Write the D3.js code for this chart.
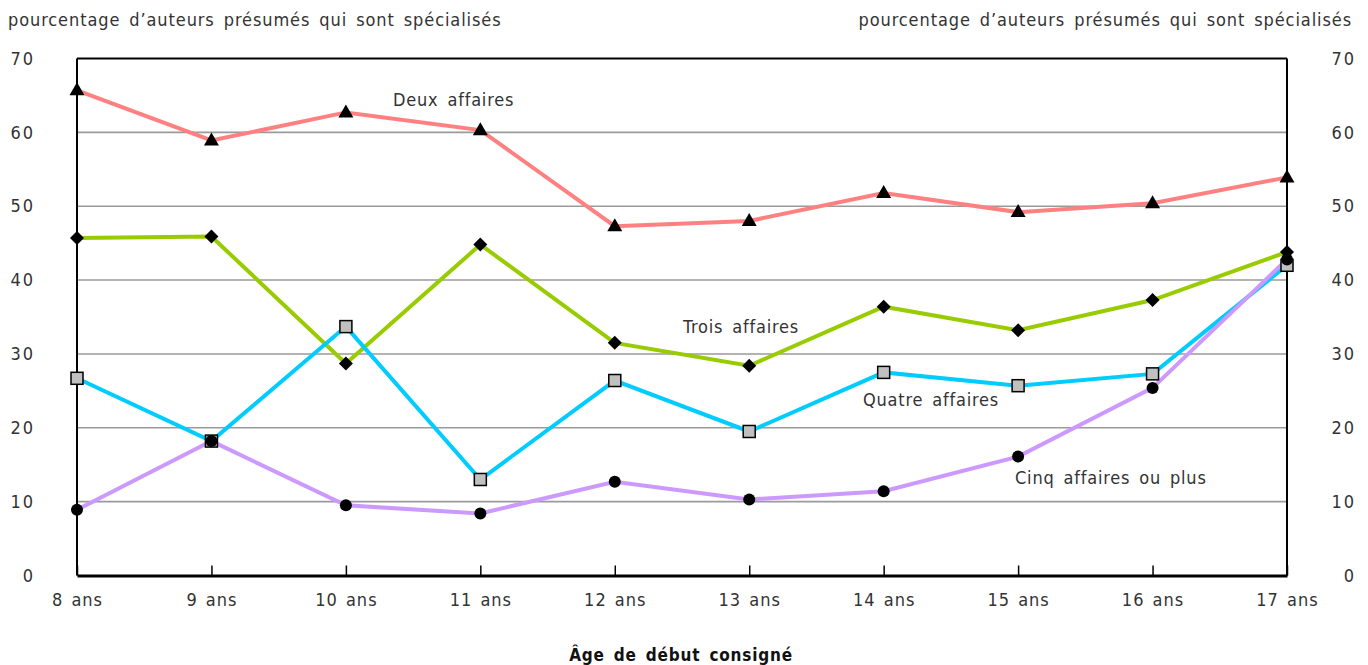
<!DOCTYPE html>
<html>
<head>
<meta charset="utf-8">
<script src="https://cdn.jsdelivr.net/npm/d3@7"></script>
<style>
  body { margin: 0; background: #fff; }
  svg text { font-family: "Liberation Sans Narrow", "DejaVu Sans Condensed", "Liberation Sans", sans-serif; fill: #333; }
</style>
</head>
<body>
<svg id="chart" width="1368" height="665"></svg>
<script>
// data
var ages = ["8 ans", "9 ans", "10 ans", "11 ans", "12 ans", "13 ans", "14 ans", "15 ans", "16 ans", "17 ans"];
var deux = [65.7, 58.9, 62.7, 60.3, 47.3, 48.0, 51.8, 49.2, 50.4, 53.9];
var trois = [45.7, 45.9, 28.7, 44.8, 31.5, 28.4, 36.4, 33.2, 37.3, 43.8];
var quatre = [26.7, 18.2, 33.7, 13.0, 26.4, 19.5, 27.5, 25.7, 27.3, 42.0];
var cinq = [8.9, 18.2, 9.5, 8.4, 12.7, 10.3, 11.4, 16.1, 25.4, 42.8];
var yTicks = [0, 10, 20, 30, 40, 50, 60, 70];

!function () {
    var svg = d3.select("#chart");
    var left = 77, right = 1287, plotTop = 58.5, plotBottom = 575.5;

    var x = d3.scalePoint().domain(ages).range([left, right]);
    var y = d3.scaleLinear().domain([0, 70]).range([plotBottom, plotTop]);

    // gridlines
    svg.append("g").selectAll("line").data(yTicks.filter(function (d) { return d > 0 && d < 70; }))
        .enter().append("line")
        .attr("x1", left).attr("x2", right)
        .attr("y1", function (d) { return y(d); }).attr("y2", function (d) { return y(d); })
        .attr("stroke", "#9a9a9a").attr("stroke-width", 1.6);

    // frame
    svg.append("line").attr("x1", left).attr("x2", right).attr("y1", plotTop).attr("y2", plotTop)
        .attr("stroke", "#000").attr("stroke-width", 2);
    svg.append("line").attr("x1", left).attr("x2", left).attr("y1", plotTop).attr("y2", plotBottom)
        .attr("stroke", "#000").attr("stroke-width", 2);
    svg.append("line").attr("x1", right).attr("x2", right).attr("y1", plotTop).attr("y2", plotBottom)
        .attr("stroke", "#000").attr("stroke-width", 2);

    // bottom axis with inward ticks
    var xAxis = svg.append("g").attr("transform", "translate(0," + plotBottom + ")")
        .call(d3.axisBottom(x).tickSize(-10).tickSizeOuter(0).tickPadding(18));
    xAxis.select(".domain").attr("stroke", "#000").attr("stroke-width", 3);
    xAxis.selectAll(".tick line").attr("stroke", "#000").attr("stroke-width", 1.5);
    xAxis.selectAll(".tick text")
        .attr("font-size", 18).attr("fill", "#333").style("letter-spacing", "1px").style("word-spacing", "2px")
        .attr("font-family", null);

    // left / right tick labels
    var yLeft = svg.append("g").attr("transform", "translate(" + left + ",0)")
        .call(d3.axisLeft(y).tickValues(yTicks).tickSize(0).tickPadding(42));
    var yRight = svg.append("g").attr("transform", "translate(" + right + ",0)")
        .call(d3.axisRight(y).tickValues(yTicks).tickSize(0).tickPadding(42));
    [yLeft, yRight].forEach(function (ax) {
        ax.select(".domain").remove();
        ax.selectAll(".tick text").attr("font-size", 18).attr("fill", "#333")
            .style("letter-spacing", "2px").attr("font-family", null);
    });
    yRight.selectAll(".tick text").attr("text-anchor", "end").attr("x", 69);

    // series
    var series = [
        { name: "Deux affaires", values: deux, color: "#ff8080", marker: "triangle" },
        { name: "Trois affaires", values: trois, color: "#99cc00", marker: "diamond" },
        { name: "Quatre affaires", values: quatre, color: "#00ccff", marker: "square" },
        { name: "Cinq affaires ou plus", values: cinq, color: "#cc99ff", marker: "circle" }
    ];

    var line = d3.line()
        .x(function (d, i) { return x(ages[i]); })
        .y(function (d) { return y(d); });

    series.forEach(function (s) {
        svg.append("path")
            .attr("d", line(s.values))
            .attr("fill", "none")
            .attr("stroke", s.color)
            .attr("stroke-width", 4);
    });

    series.forEach(function (s) {
        var g = svg.append("g");
        s.values.forEach(function (v, i) {
            var cx = x(ages[i]), cy = y(v);
            if (s.marker == "triangle") {
                g.append("path").attr("d", "M" + cx + "," + (cy - 8) + "L" + (cx + 7.5) + "," + (cy + 5) + "L" + (cx - 7.5) + "," + (cy + 5) + "Z")
                    .attr("fill", "#000");
            } else if (s.marker == "diamond") {
                g.append("path").attr("d", "M" + cx + "," + (cy - 7) + "L" + (cx + 7) + "," + cy + "L" + cx + "," + (cy + 7) + "L" + (cx - 7) + "," + cy + "Z")
                    .attr("fill", "#000");
            } else if (s.marker == "square") {
                g.append("rect").attr("x", cx - 6).attr("y", cy - 6).attr("width", 12).attr("height", 12)
                    .attr("fill", "#c0c0c0").attr("stroke", "#000").attr("stroke-width", 1.5);
            } else {
                g.append("circle").attr("cx", cx).attr("cy", cy).attr("r", 6).attr("fill", "#000");
            }
        });
    });

    // series labels
    var labels = [
        { text: "Deux affaires", x: 393, y: 106 },
        { text: "Trois affaires", x: 683, y: 333 },
        { text: "Quatre affaires", x: 863, y: 406 },
        { text: "Cinq affaires ou plus", x: 1015, y: 484 }
    ];
    svg.append("g").selectAll("text").data(labels).enter().append("text")
        .attr("x", function (d) { return d.x; }).attr("y", function (d) { return d.y; })
        .attr("font-size", 18).style("letter-spacing", "0.8px").style("word-spacing", "3px")
        .text(function (d) { return d.text; });

    // titles
    svg.append("text").attr("x", 8).attr("y", 26).attr("font-size", 18)
        .style("letter-spacing", "0.9px").style("word-spacing", "3px")
        .text("pourcentage d’auteurs présumés qui sont spécialisés");
    svg.append("text").attr("x", 1352).attr("y", 26).attr("font-size", 18).attr("text-anchor", "end")
        .style("letter-spacing", "0.9px").style("word-spacing", "3px")
        .text("pourcentage d’auteurs présumés qui sont spécialisés");
    svg.append("text").attr("x", 681).attr("y", 661).attr("font-size", 17).attr("text-anchor", "middle")
        .attr("font-weight", "bold").style("letter-spacing", "0.8px").style("word-spacing", "3px")
        .style("fill", "#111")
        .text("Âge de début consigné");
}();
</script>
</body>
</html>
